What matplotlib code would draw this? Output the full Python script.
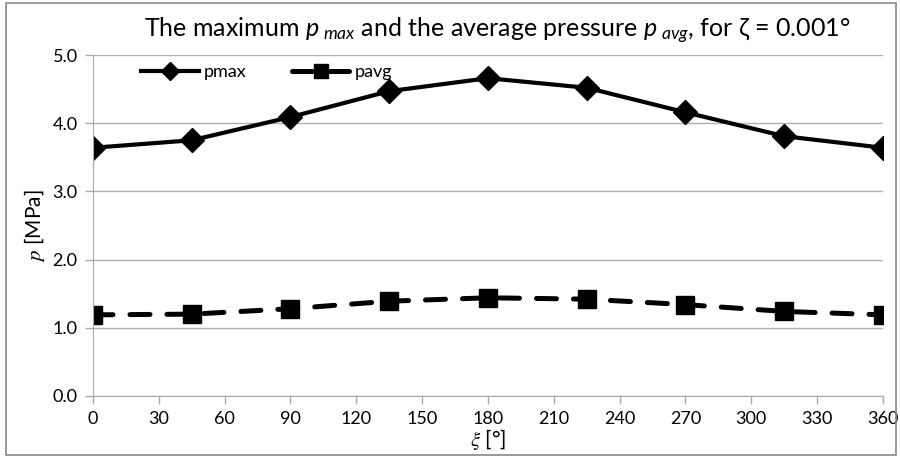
import matplotlib
matplotlib.use('Agg')
import matplotlib.pyplot as plt
from matplotlib.patches import Rectangle

# data
xi = [0, 45, 90, 135, 180, 225, 270, 315, 360]
pmax = [3.64, 3.75, 4.09, 4.47, 4.66, 4.52, 4.16, 3.81, 3.64]
pavg = [1.19, 1.20, 1.28, 1.39, 1.44, 1.42, 1.34, 1.24, 1.19]
xticks = list(range(0, 361, 30))
yticks = [0.0, 1.0, 2.0, 3.0, 4.0, 5.0]

plt.rcParams['font.family'] = ['Lato', 'DejaVu Sans']
plt.rcParams['mathtext.fontset'] = 'custom'
plt.rcParams['mathtext.rm'] = 'Lato'
plt.rcParams['mathtext.it'] = 'Lato:italic'

fig = plt.figure(figsize=(9, 4.57), dpi=100)
ax = fig.add_axes([0.1033, 0.1335, 0.8777, 0.7461])

# gray frame around the whole chart
fig.patches.append(Rectangle((0.007, 0.004), 0.988, 0.99, transform=fig.transFigure,
                             fill=False, edgecolor='#888888', linewidth=1.2))

ax.plot(xi, pmax, color='black', linewidth=3.0, marker='D', markersize=12,
        label='pmax')
ax.plot(xi, pavg, color='black', linewidth=3.6, linestyle=(0, (4.0, 3.4)),
        dash_capstyle='round', marker='s', markersize=13, label='pavg')

ax.set_xlim(0, 360)
ax.set_ylim(0, 5)
ax.set_xticks(xticks)
ax.set_yticks(yticks)
ax.set_yticklabels(['%.1f' % v for v in yticks])
ax.tick_params(axis='both', labelsize=13, color='#aaaaaa', length=6, width=1, pad=5)
ax.grid(axis='y', color='#b0b0b0', linewidth=1)
ax.set_axisbelow(True)
for s in ['top', 'right']:
    ax.spines[s].set_visible(False)
for s in ['left', 'bottom']:
    ax.spines[s].set_color('#aaaaaa')

ax.set_title(r'The maximum $p_{\ max}$ and the average pressure $p_{\ avg}$, for ζ = 0.001°',
             fontsize=18, pad=13, x=0.512)
ax.set_ylabel(r'$p$ [MPa]', fontsize=15, math_fontfamily='stix', labelpad=4)
ax.set_xlabel(r'$\xi$ [°]', fontsize=15, math_fontfamily='stix', labelpad=0)

ax.legend(loc='upper left', bbox_to_anchor=(0.04, 1.02), ncol=2, frameon=False,
          fontsize=13, handlelength=3.2, handletextpad=0.3, columnspacing=2.5,
          markerscale=0.75)

fig.savefig('out.png', dpi=100)
